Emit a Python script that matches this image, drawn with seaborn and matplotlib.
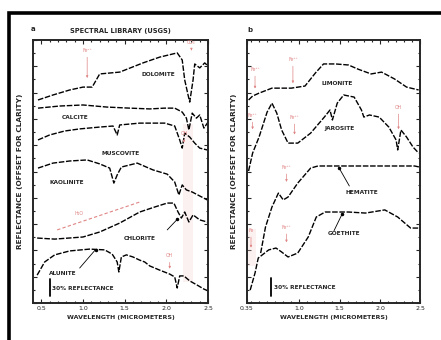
import numpy as np
import pandas as pd
import matplotlib
matplotlib.use("Agg")
import matplotlib.pyplot as plt
from matplotlib.patches import Rectangle
import seaborn as sns

# ---- panel a: wavelength (um) / offset reflectance ----
dolomite_w = [0.46, 0.64, 0.84, 1.00, 1.11, 1.20, 1.44, 1.72, 1.92, 2.13, 2.19, 2.22, 2.26, 2.28, 2.32, 2.34, 2.40, 2.46, 2.50]
dolomite_r = [77.2, 79.1, 81.0, 82.1, 82.1, 87.1, 87.8, 91.3, 93.5, 95.1, 92.4, 84.8, 79.1, 76.4, 84.8, 90.9, 89.4, 91.3, 90.1]

calcite_w = [0.46, 0.72, 1.00, 1.29, 1.56, 1.80, 1.98, 2.10, 2.19, 2.24, 2.27, 2.31, 2.36, 2.40, 2.45, 2.50]
calcite_r = [74.1, 74.9, 75.3, 74.5, 74.1, 73.8, 74.1, 74.1, 72.6, 70.3, 65.8, 72.2, 70.3, 71.5, 66.5, 68.8]

muscovite_w = [0.46, 0.60, 0.78, 0.96, 1.20, 1.36, 1.41, 1.44, 1.68, 1.98, 2.10, 2.16, 2.19, 2.22, 2.28, 2.34, 2.40, 2.49]
muscovite_r = [62.0, 63.9, 65.4, 66.2, 66.9, 67.3, 63.9, 67.7, 68.4, 68.4, 67.3, 62.0, 58.9, 64.6, 63.1, 60.8, 58.9, 58.2]

kaolinite_w = [0.46, 0.64, 0.84, 1.05, 1.20, 1.32, 1.37, 1.41, 1.46, 1.65, 1.84, 2.01, 2.10, 2.15, 2.19, 2.24, 2.31, 2.40, 2.49]
kaolinite_r = [51.3, 53.2, 54.0, 54.4, 52.9, 51.3, 45.6, 48.7, 51.7, 53.2, 50.6, 49.0, 46.0, 41.1, 44.9, 43.0, 42.2, 40.7, 39.2]

chlorite_w = [0.45, 0.66, 1.00, 1.20, 1.44, 1.68, 1.86, 2.01, 2.09, 2.14, 2.18, 2.22, 2.27, 2.32, 2.40, 2.49]
chlorite_r = [24.7, 24.3, 25.1, 27.0, 30.4, 34.6, 36.5, 38.0, 38.0, 34.6, 32.3, 34.6, 30.8, 33.5, 31.6, 30.8]

alunite_w = [0.45, 0.54, 0.66, 0.84, 1.08, 1.26, 1.35, 1.41, 1.43, 1.46, 1.52, 1.60, 1.68, 1.74, 1.80, 1.92, 2.04, 2.10, 2.13, 2.16, 2.21, 2.28, 2.37, 2.45, 2.50]
alunite_r = [10.6, 15.6, 18.3, 19.8, 20.5, 20.2, 18.6, 15.6, 11.8, 17.5, 18.3, 17.5, 16.3, 15.6, 14.1, 12.5, 11.0, 9.9, 5.7, 10.3, 10.3, 8.4, 6.8, 5.3, 4.6]

# ---- panel b ----
limonite_w = [0.37, 0.42, 0.50, 0.66, 0.90, 1.07, 1.20, 1.30, 1.45, 1.61, 1.73, 1.89, 2.02, 2.18, 2.33, 2.48]
limonite_r = [77.2, 78.7, 79.8, 81.7, 81.7, 82.5, 87.5, 90.9, 90.9, 90.5, 88.9, 87.1, 87.8, 85.2, 82.1, 81.0]

jarosite_w = [0.37, 0.42, 0.50, 0.60, 0.66, 0.72, 0.78, 0.86, 0.98, 1.14, 1.31, 1.38, 1.41, 1.47, 1.55, 1.68, 1.77, 1.80, 1.87, 1.99, 2.11, 2.20, 2.22, 2.26, 2.33, 2.41, 2.48]
jarosite_r = [50.2, 57.0, 63.1, 72.6, 76.0, 72.2, 65.8, 60.8, 60.8, 64.6, 70.7, 73.4, 69.6, 76.0, 79.1, 78.3, 73.4, 70.7, 71.5, 70.7, 66.9, 62.0, 58.2, 65.8, 63.1, 59.3, 57.0]

hematite_w = [0.52, 0.58, 0.66, 0.74, 0.80, 0.86, 0.98, 1.14, 1.23, 1.49, 2.02, 2.43, 2.49]
hematite_r = [19.0, 28.9, 36.5, 41.8, 39.2, 40.3, 45.6, 51.3, 52.1, 52.1, 52.1, 52.1, 51.7]

goethite_w = [0.39, 0.45, 0.49, 0.62, 0.71, 0.78, 0.86, 0.98, 1.11, 1.21, 1.32, 1.61, 1.82, 2.06, 2.22, 2.38, 2.48]
goethite_r = [4.9, 11.4, 17.1, 20.2, 20.9, 19.4, 17.5, 19.0, 25.1, 32.7, 34.6, 34.6, 34.2, 35.4, 32.7, 28.5, 28.5]

x_ticks_a = [0.5, 1.0, 1.5, 2.0, 2.5]
x_labels_a = ["0.5", "1.0", "1.5", "2.0", "2.5"]
x_ticks_b = [0.35, 1.0, 1.5, 2.0, 2.5]
x_labels_b = ["0.35", "1.0", "1.5", "2.0", "2.5"]

# curve labels: (text, x, y)
labels_a = [("DOLOMITE", 1.90, 87.0), ("CALCITE", 0.90, 70.5), ("MUSCOVITE", 1.45, 57.0),
            ("KAOLINITE", 0.81, 46.0), ("CHLORITE", 1.68, 24.7), ("ALUNITE", 0.76, 11.4)]
labels_b = [("LIMONITE", 1.47, 83.5), ("JAROSITE", 1.50, 66.5), ("HEMATITE", 1.78, 42.2),
            ("GOETHITE", 1.55, 26.6)]

# leader lines: (x0, y0, x1, y1)
leaders_a = [(2.01, 27.8, 2.13, 31.8), (0.96, 13.3, 1.15, 20.3)]
leaders_b = [(1.62, 44.5, 1.49, 51.5), (1.43, 27.5, 1.53, 33.8)]

# red feature annotations: (text, x, y_text, y_arrow_end)
feat_a = [("Fe²⁺", 1.05, 95.0, 84.5), ("CO₃", 2.30, 98.0, 96.0), ("OH", 2.21, 63.5, 61.0),
          ("H₂O", 0.95, 33.0, 33.0), ("OH", 2.04, 17.0, 12.0)]
feat_b = [("Fe³⁺", 0.45, 87.8, 80.5), ("Fe³⁺", 0.92, 91.6, 82.5), ("Fe³⁺", 0.42, 70.3, 65.0),
          ("Fe³⁺", 0.94, 69.6, 63.0), ("OH", 2.23, 73.4, 65.0), ("Fe³⁺", 0.84, 50.6, 45.0),
          ("Fe³⁺", 0.84, 27.8, 22.0), ("Fe", 0.40, 26.6, 20.0)]

# continuum line drawn over the chlorite spectrum
cont_w = [0.69, 1.68]
cont_r = [27.8, 38.4]

sns.set_style("ticks")
plt.rcParams['font.family'] = ['DejaVu Sans']

fig = plt.figure(figsize=(4.41, 3.40), dpi=100)
ax_a = fig.add_axes([0.0748, 0.1088, 0.397, 0.7735])
ax_b = fig.add_axes([0.560, 0.1088, 0.393, 0.7735])

red = "#e08585"
line_kw = dict(color="black", linewidth=1.0, sort=False, estimator=None)


def draw_panel(ax, curves, labels, leaders, feats, xlim, xticks, xlabels):
    for w, r in curves:
        df = pd.DataFrame({"w": w, "r": r})
        sns.lineplot(data=df, x="w", y="r", ax=ax, linestyle=(0, (4, 1.2)), **line_kw)
    for txt, x, y in labels:
        ax.text(x, y, txt, fontsize=4.2, fontweight="bold", ha="center", va="center")
    for x0, y0, x1, y1 in leaders:
        ax.plot([x0, x1], [y0, y1], color="black", linewidth=0.6)
        ax.plot([x1], [y1], "o", color="black", markersize=1.5)
    for txt, x, yt, ye in feats:
        ax.text(x, yt, txt, fontsize=3.3, color=red, ha="center", va="bottom")
        if ye < yt - 1:
            ax.annotate("", xy=(x, ye), xytext=(x, yt - 0.5),
                        arrowprops=dict(arrowstyle="-|>", color=red, lw=0.5,
                                        mutation_scale=3))
    ax.set_xlim(*xlim)
    ax.set_ylim(0, 100)
    ax.set_xticks(xticks)
    ax.set_xticklabels(xlabels, fontsize=4.5)
    ax.set_xticks(np.arange(0.4, 2.51, 0.1), minor=True)
    ax.set_yticks(np.arange(0, 101, 10))
    ax.set_yticks(np.arange(0, 101, 5), minor=True)
    ax.set_yticklabels([])
    ax.tick_params(which="both", direction="in", top=True, right=True, width=0.8, pad=2)
    ax.tick_params(which="major", length=3)
    ax.tick_params(which="minor", length=1.5)
    for s in ax.spines.values():
        s.set_linewidth(1.4)
    ax.set_xlabel("WAVELENGTH (MICROMETERS)", fontsize=4.5, fontweight="bold", labelpad=3)
    ax.set_ylabel("REFLECTANCE (OFFSET FOR CLARITY)", fontsize=5.3, fontweight="bold", labelpad=5)


draw_panel(ax_a,
           [(dolomite_w, dolomite_r), (calcite_w, calcite_r), (muscovite_w, muscovite_r),
            (kaolinite_w, kaolinite_r), (chlorite_w, chlorite_r), (alunite_w, alunite_r)],
           labels_a, leaders_a, feat_a, (0.4, 2.5), x_ticks_a, x_labels_a)
draw_panel(ax_b,
           [(limonite_w, limonite_r), (jarosite_w, jarosite_r), (hematite_w, hematite_r),
            (goethite_w, goethite_r)],
           labels_b, leaders_b, feat_b, (0.35, 2.5), x_ticks_b, x_labels_b)

# red continuum line and faint absorption zones
ax_a.plot(cont_w, cont_r, color=red, linewidth=0.8, linestyle=(0, (3, 2)))
ax_a.axvspan(2.20, 2.32, ymin=0.08, ymax=0.68, color="#f6d3d3", alpha=0.3, lw=0)
ax_b.axvspan(0.36, 0.46, ymin=0.14, ymax=0.28, color="#f6d3d3", alpha=0.3, lw=0)

# 30% reflectance scale bars
ax_a.plot([0.60, 0.60], [2.5, 9.0], color="black", linewidth=1.3)
ax_a.text(0.63, 5.7, "30% REFLECTANCE", fontsize=4.2, fontweight="bold", va="center")
ax_b.plot([0.65, 0.65], [2.5, 9.5], color="black", linewidth=1.3)
ax_b.text(0.69, 6.0, "30% REFLECTANCE", fontsize=4.2, fontweight="bold", va="center")

fig.text(0.272, 0.908, "SPECTRAL LIBRARY (USGS)", fontsize=4.8, fontweight="bold", ha="center", va="center")
fig.text(0.075, 0.915, "a", fontsize=5, fontweight="bold", ha="center", va="center")
fig.text(0.567, 0.912, "b", fontsize=5, fontweight="bold", ha="center", va="center")

# thick outer frame
fig.patches.append(Rectangle((9 / 441, -0.1), 1.2, 1.1 - 13 / 340,
                             transform=fig.transFigure, fill=False,
                             edgecolor="black", linewidth=2.6))

fig.savefig("out.png", dpi=100)
